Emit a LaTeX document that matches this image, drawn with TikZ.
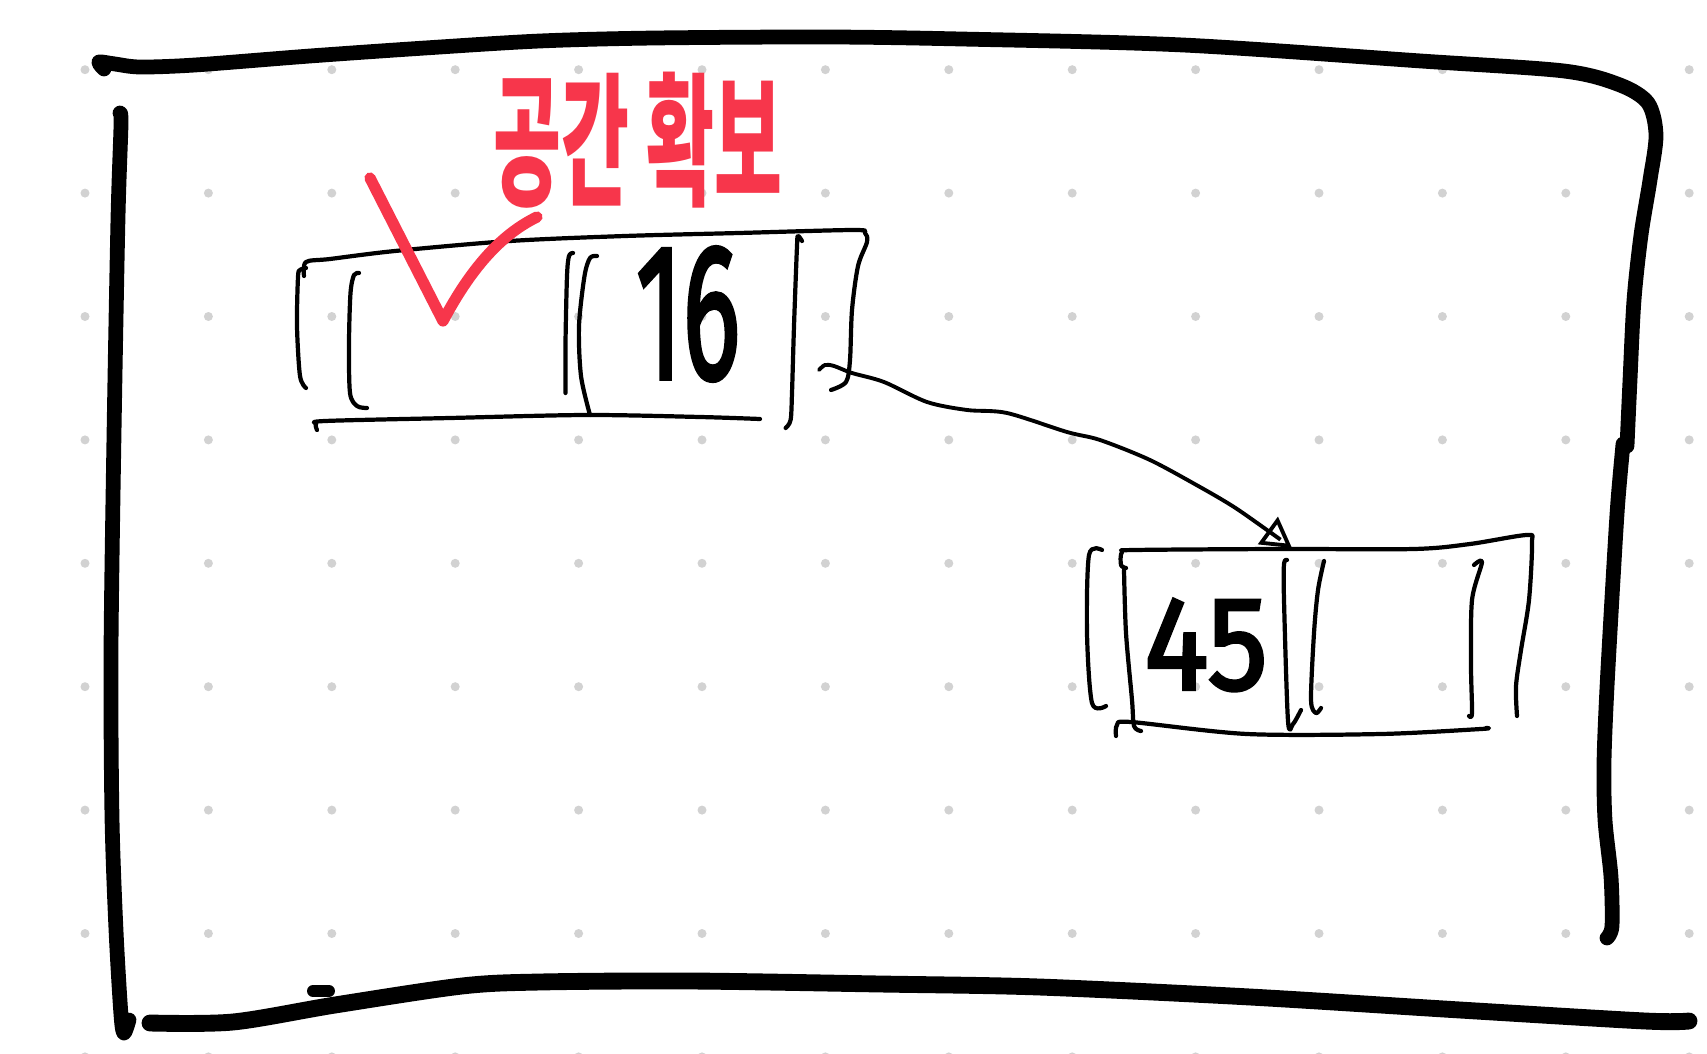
\documentclass[tikz,border=0pt]{standalone}
\usepackage{fontspec}
\usepackage{graphicx}
\newfontfamily\handfont{Fira Sans}[FakeBold=2.4]
\newfontfamily\kofont{Noto Sans CJK KR}
\usetikzlibrary{arrows.meta}

\begin{document}
\begin{tikzpicture}[x=0.02cm, y=-0.02cm,
    framepen/.style={line width=8.4pt, line cap=round, line join=round},
    boxpen/.style={line width=2.4pt, line cap=round, line join=round},
    redpen/.style={draw=sketchred, line width=6.4pt, line cap=round, line join=round},
    linkpen/.style={line width=2.2pt, line cap=round,
      -{Triangle[open, length=17pt, width=19pt]}},
    digits/.style={font=\handfont\fontsize{55pt}{55pt}\selectfont, inner sep=0pt}]
    \definecolor{sketchred}{HTML}{F7364B}
    \definecolor{dotgrey}{HTML}{D2D2D2}

    \useasboundingbox (0,0) rectangle (1707,1054);
    \fill[white] (0,0) rectangle (1707,1054);

    % =================== dot grid ===================
    \foreach \i in {0,...,13}{
      \foreach \j in {0,...,8}{
        \fill[dotgrey] ({85+123.4*\i},{69.7+123.4*\j}) circle[radius=4.5];
      }
    }

    % =================== outer frame ===================
    % top edge and upper right side
    \draw[framepen] plot[smooth] coordinates {(104,69) (99,62) (115,64) (140,67)
      (195,65) (310,56) (425,48) (540,41) (655,38) (828,37) (961,39) (1183,45)
      (1421,61) (1564,71) (1620,85) (1648,103) (1656,135) (1650,180) (1641,235)
      (1634,300) (1630,380) (1627,446)};
    % lower right side
    \draw[framepen] plot[smooth] coordinates {(1623,444) (1618,500) (1614,563)
      (1607,687) (1604,763) (1605,820) (1611,877) (1612,926) (1607,938)};
    % left side
    \draw[framepen] plot[smooth] coordinates {(120,113) (121,125) (118,218)
      (114,435) (111,653) (112,817) (116,930) (121,1015) (124,1033) (129,1020)};
    % bottom edge
    \draw[framepen, line width=9.6pt] plot[smooth] coordinates {(150,1023) (233,1022)
      (335,1005) (462,986) (540,982) (690,981) (880,984) (1039,987) (1250,997)
      (1460,1010) (1645,1021) (1689,1021)};
    \draw[framepen, line width=6.8pt] (313,991) -- (329,991);

    % =================== first list node ===================
    \draw[boxpen] plot[smooth] coordinates {(304,276) (306,262) (330,259)
      (395,251) (510,241) (625,236) (739,233) (854,230) (865,233) (867,242)
      (858,266) (852,310) (850,360) (846,382) (831,390)};
    \draw[boxpen] plot[smooth] coordinates {(306,268) (300,270) (298,277)
      (297,326) (300,376) (306,388)};
    \draw[boxpen] plot[smooth] coordinates {(359,273) (354,275) (350.5,293)
      (349,343) (350,393) (357,406) (367,408)};
    \draw[boxpen] plot[smooth] coordinates {(573,253) (569,256) (567,276)
      (565.5,343) (565.5,393)};
    \draw[boxpen] plot[smooth] coordinates {(597,256) (590,258) (584.5,276)
      (579,326) (581,376) (590,415)};
    \draw[boxpen] plot[smooth] coordinates {(802,241) (798,236) (797,246)
      (794,326) (792,393) (790.6,420) (785.6,428)};
    \draw[boxpen] plot[smooth] coordinates {(317,430) (316,424) (325,421)
      (450,418) (586,415) (700,417) (760,419)};
    \node[digits] (valA) at (688,314) {\scalebox{1.12}[2.0]{16}};

    % freed cell: check mark and note
    \draw[redpen] (370,178) -- (443,321)
      .. controls (470,270) and (500,235) .. (537,217);
    \node[font=\kofont\bfseries\fontsize{42pt}{42pt}\selectfont, text=sketchred, inner sep=0pt]
      (note) at (638,140) {\scalebox{1}[1.95]{공간 확보}};

    % =================== second list node ===================
    \draw[boxpen] plot[smooth] coordinates {(1126,568) (1121,565) (1122,552)
      (1135,550) (1280,549) (1414,549) (1470,544) (1527,535) (1532,543)
      (1529,600) (1521,650) (1516,686) (1517,716)};
    \draw[boxpen] plot[smooth] coordinates {(1102,550) (1089,555) (1087,633)
      (1092,703) (1106,706)};
    \draw[boxpen] plot[smooth] coordinates {(1124,570) (1126,633) (1132,700)
      (1134,726) (1141,731)};
    \draw[boxpen] plot[smooth] coordinates {(1116,736) (1117,725) (1131,722)
      (1247,734) (1381,734) (1481,729) (1486,728)};
    \draw[boxpen] plot[smooth] coordinates {(1287,560) (1284,564) (1284,600)
      (1288,721) (1293,724) (1301,710)};
    \draw[boxpen] plot[smooth] coordinates {(1324,561) (1318,590) (1314,633)
      (1311,700) (1316,713) (1321,708)};
    \draw[boxpen] plot[smooth] coordinates {(1474,565) (1482,562) (1472,600)
      (1471,666) (1472,713) (1469,716)};
    \node[digits] (valB) at (1206,645) {\scalebox{1.25}[1.38]{45}};

    % next pointer
    \coordinate (nextA) at (819,370);
    \coordinate (headB) at (1292,548);
    \draw[linkpen] plot[smooth] coordinates {(nextA) (825,365) (834,366)
      (852,373) (884,382) (927,402) (967,410) (1007,413) (1067,432) (1100,440)
      (1150,460) (1200,487) (1234,507) (1267,530) (headB)};
\end{tikzpicture}
\end{document}
